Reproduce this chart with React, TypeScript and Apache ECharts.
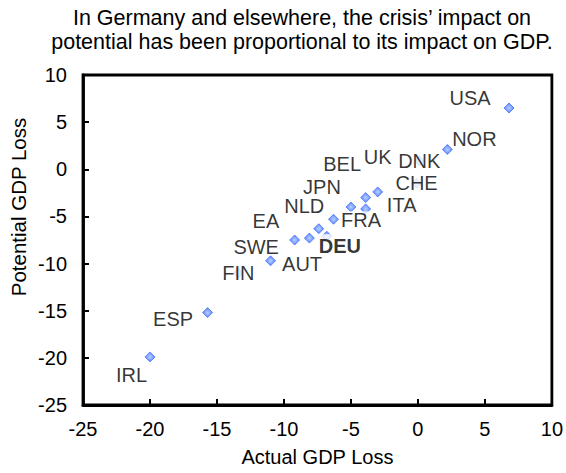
import React, { useEffect, useRef } from "react";
import * as echarts from "echarts";

const countries = ["USA", "NOR", "DNK", "CHE", "UK", "BEL", "ITA", "JPN", "FRA", "NLD", "EA", "DEU", "SWE", "AUT", "FIN", "ESP", "IRL"];
const actualLoss = [6.8, 2.2, 0.1, -0.1, -3.0, -3.9, -3.9, -5.0, -6.3, -7.4, -8.1, -6.8, -9.2, -11.0, -13.4, -15.7, -20.0];
const potentialLoss = [6.5, 2.1, 0.9, -1.5, -2.4, -3.0, -4.2, -4.0, -5.3, -6.3, -7.3, -7.1, -7.5, -9.7, -11.0, -15.2, -19.9];

// label placement (style): pixel offsets of each label from its marker
const labelOffsets: number[][] = [
  [-39, -10], [27, -10.5], [0, 0], [0, 0], [0, -35], [-23.5, -33.5], [36, -4], [-29, -20],
  [27.5, 1], [-14.5, -23], [-43.5, -17], [13, 10], [-38.5, 6.5], [31.5, 3.5], [0, 0], [-34.5, 6], [-18.5, 18.5],
];
const boldLabels = ["DEU"];

const xTicks = [-25, -20, -15, -10, -5, 0, 5, 10];
const yTicks = [-25, -20, -15, -10, -5, 0, 5, 10];

const titleText = "In Germany and elsewhere, the crisis\u2019 impact on\npotential has been proportional to its impact on GDP.";
const xName = "Actual GDP Loss";
const yName = "Potential GDP Loss";

const FONT = "'Liberation Sans', Arial, sans-serif";

export default function App() {
  const ref = useRef<HTMLDivElement>(null);
  useEffect(() => {
    if (!ref.current) return;
    const chart = echarts.init(ref.current, null, { renderer: "svg" });
    const data = countries.map((c, i) => {
      const bold = boldLabels.includes(c);
      return {
        name: c,
        value: [actualLoss[i], potentialLoss[i]],
        label: {
          show: true,
          position: "inside",
          formatter: c,
          color: "#000",
          fontSize: 20,
          lineHeight: 18,
          fontFamily: FONT,
          fontWeight: bold ? "bold" : "normal",
          backgroundColor: "#fff",
          padding: bold ? [3, 0] : [0, 0],
        },
      };
    });
    chart.setOption({
      animation: false,
      textStyle: { fontFamily: FONT },
      grid: {
        left: 83,
        right: 12,
        top: 75,
        bottom: 68,
        show: true,
        borderColor: "#000",
        borderWidth: 2.8,
        backgroundColor: "transparent",
      },
      xAxis: {
        type: "value",
        min: xTicks[0],
        max: xTicks[xTicks.length - 1],
        interval: 5,
        axisLine: { show: true, onZero: false, lineStyle: { color: "#000", width: 2.8 } },
        axisTick: { show: true, inside: true, length: 6, lineStyle: { color: "#000", width: 2 } },
        splitLine: { show: false },
        axisLabel: { color: "#000", fontSize: 20, margin: 14, fontFamily: FONT },
        name: xName,
        nameLocation: "middle",
        nameGap: 42,
        nameTextStyle: { color: "#000", fontSize: 20, fontFamily: FONT },
      },
      yAxis: {
        type: "value",
        min: yTicks[0],
        max: yTicks[yTicks.length - 1],
        interval: 5,
        axisLine: { show: true, onZero: false, lineStyle: { color: "#000", width: 2.8 } },
        axisTick: { show: true, inside: true, length: 6, lineStyle: { color: "#000", width: 2 } },
        splitLine: { show: false },
        axisLabel: { color: "#000", fontSize: 20, margin: 16, fontFamily: FONT },
      },
      graphic: [
        {
          type: "text",
          x: 302,
          y: 6,
          style: {
            text: titleText,
            fill: "#000",
            font: `21.5px ${FONT}`,
            textAlign: "center",
            textVerticalAlign: "top",
            lineHeight: 24,
          },
        },
        {
          type: "text",
          x: 18,
          y: 207,
          rotation: Math.PI / 2,
          style: {
            text: yName,
            fill: "#000",
            font: `20.5px ${FONT}`,
            textAlign: "center",
            textVerticalAlign: "middle",
          },
        },
      ],
      series: [
        {
          type: "scatter",
          symbol: "diamond",
          symbolSize: [10, 10],
          itemStyle: {
            color: {
              type: "radial",
              x: 0.5,
              y: 0.5,
              r: 0.5,
              colorStops: [
                { offset: 0, color: "#a8c4ff" },
                { offset: 1, color: "#3366ff" },
              ],
            },
            borderColor: "#2e5fff",
            borderWidth: 0.8,
          },
          labelLayout: (params: any) => {
            const o = labelOffsets[params.dataIndex] || [0, 0];
            return { dx: o[0], dy: o[1], hideOverlap: false };
          },
          data,
          z: 3,
        },
      ],
    });
    return () => chart.dispose();
  }, []);
  return <div ref={ref} style={{ width: 566, height: 473, position: "absolute", left: 0, top: 0 }} />;
}
